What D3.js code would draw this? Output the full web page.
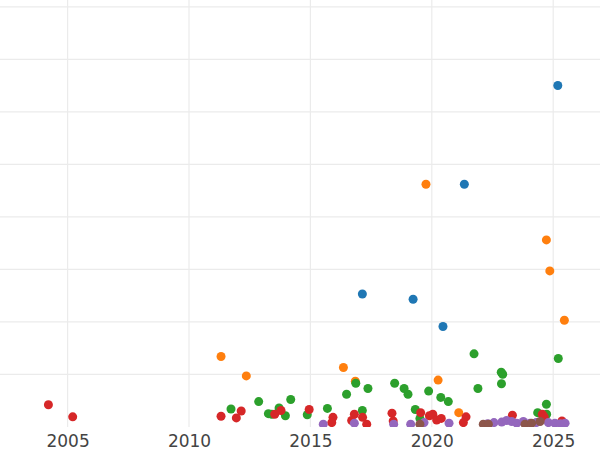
<!DOCTYPE html>
<html><head><meta charset="utf-8">
<script src="https://cdn.jsdelivr.net/npm/d3@7"></script>
<style>html,body{margin:0;padding:0;background:#fff;}svg{display:block;}</style>
</head><body><div id="chart"></div>
<script>
const seriesNames = ["blue","orange","green","red","purple","brown"];
const seriesColors = ["#1f77b4","#ff7f0e","#2ca02c","#d62728","#9467bd","#8c564b"];
const xTicks = [2005, 2010, 2015, 2020, 2025];
const yGrid = [0,1,2,3,4,5,6,7,8];

const blueX = [2025.19, 2021.34, 2017.14, 2019.23, 2020.46];
const blueY = [6.50, 4.62, 2.53, 2.43, 1.91];

const orangeX = [2019.76, 2024.72, 2024.86, 2025.46, 2011.32, 2012.36, 2016.36, 2016.85, 2020.26, 2021.11];
const orangeY = [4.62, 3.56, 2.97, 2.03, 1.34, 0.97, 1.13, 0.87, 0.89, 0.27];

const greenX = [2011.73, 2012.87, 2013.27, 2013.41, 2013.71, 2013.97, 2014.19, 2014.87, 2015.70, 2016.49,
  2016.87, 2017.37, 2017.14, 2018.47, 2018.86, 2019.02, 2019.32, 2019.51, 2019.87, 2020.37,
  2020.68, 2021.74, 2021.90, 2022.86, 2022.92, 2022.87, 2025.21, 2024.72, 2024.36, 2024.73];
const greenY = [0.34, 0.48, 0.25, 0.24, 0.36, 0.21, 0.52, 0.23, 0.35, 0.62,
  0.83, 0.73, 0.31, 0.83, 0.73, 0.62, 0.33, 0.16, 0.68, 0.56,
  0.48, 1.39, 0.73, 1.04, 1.00, 0.82, 1.30, 0.43, 0.27, 0.24];

const redX = [2004.21, 2005.21, 2011.32, 2011.95, 2012.15, 2013.53, 2013.79, 2014.95, 2015.93, 2015.88,
  2016.81, 2016.70, 2017.15, 2017.32, 2018.36, 2018.41, 2019.54, 2019.90, 2020.04, 2020.20,
  2020.39, 2021.41, 2021.30, 2023.32, 2024.55, 2024.63, 2025.36];
const redY = [0.42, 0.19, 0.20, 0.17, 0.30, 0.24, 0.31, 0.33, 0.18, 0.08,
  0.24, 0.12, 0.18, 0.05, 0.26, 0.11, 0.27, 0.21, 0.24, 0.13,
  0.16, 0.19, 0.08, 0.22, 0.24, 0.19, 0.11];

const purpleX = [2015.53, 2016.81, 2018.43, 2019.13, 2019.68, 2020.71, 2022.30, 2022.56, 2022.88, 2023.08,
  2023.29, 2023.50, 2023.77, 2024.04, 2024.30, 2024.80, 2025.07, 2025.30, 2025.49];
const purpleY = [0.05, 0.07, 0.05, 0.05, 0.08, 0.07, 0.06, 0.08, 0.09, 0.12,
  0.10, 0.07, 0.10, 0.07, 0.08, 0.08, 0.07, 0.06, 0.07];

const brownX = [2019.51, 2022.12, 2022.33, 2023.84, 2024.11, 2024.46];
const brownY = [0.05, 0.05, 0.05, 0.05, 0.07, 0.10];

const allX = [blueX, orangeX, greenX, redX, purpleX, brownX];
const allY = [blueY, orangeY, greenY, redY, purpleY, brownY];

const W = 600, H = 450;
const plot = {left: 0, right: 600, top: 0, bottom: 427};

const x = d3.scaleLinear().domain([2005, 2025]).range([67.6, 553.2]);
const y = d3.scaleLinear().domain([0, 8]).range([426.8, 6.8]);

const svg = d3.select("#chart").append("svg").attr("width", W).attr("height", H);

svg.append("defs").append("clipPath").attr("id","clip")
  .append("rect").attr("x", plot.left).attr("y", plot.top)
  .attr("width", plot.right - plot.left).attr("height", plot.bottom - plot.top);

const grid = svg.append("g");
grid.selectAll("line.h").data(yGrid.slice(1)).join("line")
  .attr("x1", plot.left).attr("x2", plot.right)
  .attr("y1", d => y(d)).attr("y2", d => y(d))
  .attr("stroke", "#ebebeb").attr("stroke-width", 1.2);
grid.selectAll("line.v").data(xTicks).join("line")
  .attr("y1", plot.top).attr("y2", plot.bottom)
  .attr("x1", d => x(d)).attr("x2", d => x(d))
  .attr("stroke", "#ebebeb").attr("stroke-width", 1.2);

const pts = svg.append("g").attr("clip-path", "url(#clip)");
seriesNames.forEach((name, i) => {
  const data = allX[i].map((v, j) => ({x: v, y: allY[i][j]}));
  pts.append("g").attr("class", name).selectAll("circle").data(data).join("circle")
    .attr("cx", d => x(d.x)).attr("cy", d => y(d.y)).attr("r", 4.5)
    .attr("fill", seriesColors[i]);
});

const xAxis = d3.axisBottom(x).tickValues(xTicks).tickFormat(d3.format("d")).tickSize(0).tickPadding(0);
const ax = svg.append("g").attr("transform", `translate(0,${plot.bottom})`).call(xAxis);
ax.select(".domain").remove();
ax.selectAll("text")
  .attr("y", 19.7).attr("dy", null)
  .attr("font-family", "DejaVu Sans").attr("font-size", 17).attr("fill", "#444");
</script>
</body></html>
